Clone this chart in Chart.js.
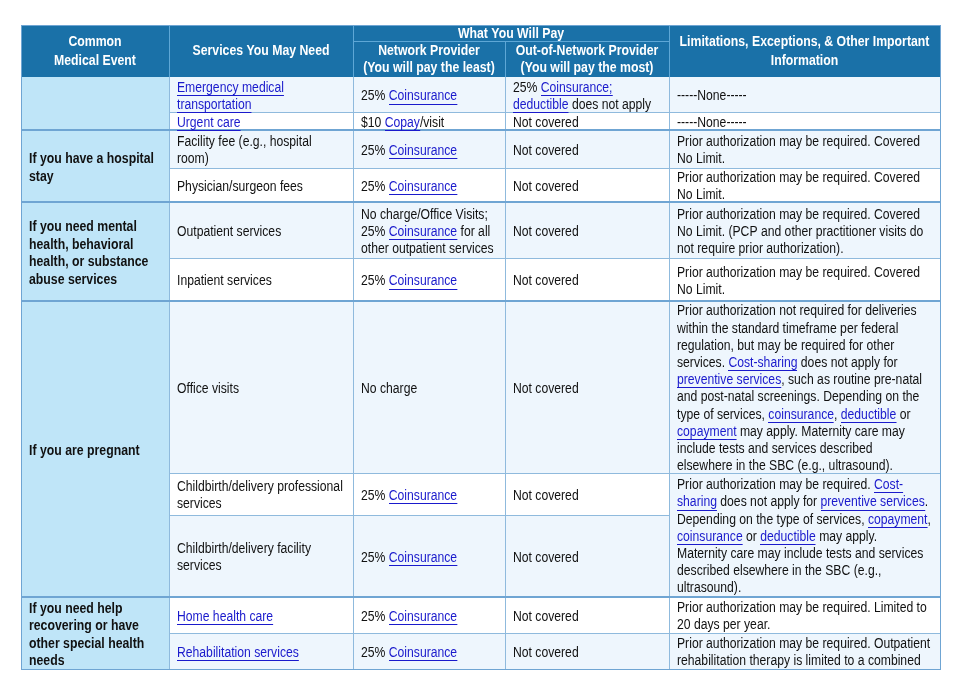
<!DOCTYPE html>
<html>
<head>
<meta charset="utf-8">
<script src="https://cdn.jsdelivr.net/npm/chart.js@4.4.1/dist/chart.umd.min.js"></script>
<style>
  html, body { margin: 0; background: #fff; }
  #wrap { width: 955px; height: 687px; }
</style>
</head>
<body>
<div id="wrap"><canvas id="sbc" width="955" height="687"></canvas></div>
<script>
// --- table content ---
const headerTop = ['Common\nMedical Event', 'Services You May Need', 'What You Will Pay', 'Limitations, Exceptions, & Other Important\nInformation'];
const headerSub = ['Network Provider\n(You will pay the least)', 'Out-of-Network Provider\n(You will pay the most)'];

const events = [
  '',
  'If you have a hospital\nstay',
  'If you need mental\nhealth, behavioral\nhealth, or substance\nabuse services',
  'If you are pregnant',
  'If you need help\nrecovering or have\nother special health\nneeds'
];
const eventRowCount = [2, 2, 2, 3, 2];

// [text] = link
const services = [
  '[Emergency medical]\n[transportation]',
  '[Urgent care]',
  'Facility fee (e.g., hospital\nroom)',
  'Physician/surgeon fees',
  'Outpatient services',
  'Inpatient services',
  'Office visits',
  'Childbirth/delivery professional\nservices',
  'Childbirth/delivery facility\nservices',
  '[Home health care]',
  '[Rehabilitation services]'
];
const networkCost = [
  '25% [Coinsurance]',
  '$10 [Copay]/visit',
  '25% [Coinsurance]',
  '25% [Coinsurance]',
  'No charge/Office Visits;\n25% [Coinsurance] for all\nother outpatient services',
  '25% [Coinsurance]',
  'No charge',
  '25% [Coinsurance]',
  '25% [Coinsurance]',
  '25% [Coinsurance]',
  '25% [Coinsurance]'
];
const outNetworkCost = [
  '25% [Coinsurance;]\n[deductible] does not apply',
  'Not covered', 'Not covered', 'Not covered', 'Not covered', 'Not covered',
  'Not covered', 'Not covered', 'Not covered', 'Not covered', 'Not covered'
];
// null = merged with the cell above
const limitations = [
  '-----None-----',
  '-----None-----',
  'Prior authorization may be required. Covered\nNo Limit.',
  'Prior authorization may be required. Covered\nNo Limit.',
  'Prior authorization may be required. Covered\nNo Limit. (PCP and other practitioner visits do\nnot require prior authorization).',
  'Prior authorization may be required. Covered\nNo Limit.',
  'Prior authorization not required for deliveries\nwithin the standard timeframe per federal\nregulation, but may be required for other\nservices. [Cost-sharing] does not apply for\n[preventive services], such as routine pre-natal\nand post-natal screenings. Depending on the\ntype of services, [coinsurance], [deductible] or\n[copayment] may apply. Maternity care may\ninclude tests and services described\nelsewhere in the SBC (e.g., ultrasound).',
  'Prior authorization may be required. [Cost-]\n[sharing] does not apply for [preventive services].\nDepending on the type of services, [copayment],\n[coinsurance] or [deductible] may apply.\nMaternity care may include tests and services\ndescribed elsewhere in the SBC (e.g.,\nultrasound).',
  null,
  'Prior authorization may be required. Limited to\n20 days per year.',
  'Prior authorization may be required. Outpatient\nrehabilitation therapy is limited to a combined'
];

// --- layout (table units) ---
const colWidths = [148, 184, 152, 164, 271];
const headerHeights = [16, 36];
const rowHeights = [35, 18, 38, 34, 56, 43, 172, 42, 82, 36, 36];

const C = {
  header: '#1a71a8',
  headerLine: '#5ea7d6',
  event: '#bfe5f8',
  shade: '#eef6fd',
  line: '#8fbadd',
  groupLine: '#6fa5d3',
  text: '#111111',
  link: '#1a1acc'
};
const FAMILY = "'Liberation Sans Narrow', 'Arial Narrow', 'Liberation Sans', Arial, sans-serif";
const BODY = '14px ' + FAMILY;
const BOLD = 'bold 14px ' + FAMILY;

function cum(arr) { const out = [0]; arr.forEach(v => out.push(out[out.length - 1] + v)); return out; }
const colEdges = cum(colWidths);
const headEdges = cum(headerHeights);
const rowEdges = cum(rowHeights).map(v => v + headEdges[2]);
const totalW = colEdges[colEdges.length - 1];
const totalH = rowEdges[rowEdges.length - 1];

function parseLine(line) {
  const segs = [];
  const re = /\[([^\]]*)\]/g;
  let last = 0, m;
  while ((m = re.exec(line))) {
    if (m.index > last) segs.push({ t: line.slice(last, m.index), link: false });
    segs.push({ t: m[1], link: true });
    last = re.lastIndex;
  }
  if (last < line.length) segs.push({ t: line.slice(last), link: false });
  return segs;
}

// horizontal squeeze so the text width matches the reference
function squeeze(ctx, font, sample, target) {
  ctx.font = font;
  const w = ctx.measureText(sample).width;
  return w > 0 ? target / w : 1;
}

const tablePlugin = {
  id: 'sbcTable',
  afterDraw(chart) {
    const ctx = chart.ctx;
    const sx = chart.scales.x, sy = chart.scales.y;
    const X = v => sx.getPixelForValue(v);
    const Y = v => sy.getPixelForValue(v);
    const kBody = squeeze(ctx, BODY, 'Prior authorization may be required. Covered', 243);
    const kBold = squeeze(ctx, BOLD, 'Services You May Need', 137);

    function rect(x0, y0, x1, y1, color) {
      ctx.fillStyle = color;
      ctx.fillRect(X(x0), Y(y0), X(x1) - X(x0), Y(y1) - Y(y0));
    }
    function hline(x0, x1, y, color, w) {
      ctx.strokeStyle = color; ctx.lineWidth = w;
      const py = Math.round(Y(y)) + (w % 2 ? 0.5 : 0);
      ctx.beginPath(); ctx.moveTo(X(x0), py); ctx.lineTo(X(x1), py); ctx.stroke();
    }
    function vline(x, y0, y1, color, w) {
      ctx.strokeStyle = color; ctx.lineWidth = w;
      const px = Math.round(X(x)) + (w % 2 ? 0.5 : 0);
      ctx.beginPath(); ctx.moveTo(px, Y(y0)); ctx.lineTo(px, Y(y1)); ctx.stroke();
    }
    function text(str, x0, x1, y0, y1, opt) {
      if (!str) return;
      const lines = str.split('\n');
      const lh = opt.lh || 17.2;
      const k = opt.bold ? kBold : kBody;
      ctx.font = opt.bold ? BOLD : BODY;
      ctx.textBaseline = 'middle';
      ctx.textAlign = 'left';
      const cy = (Y(y0) + Y(y1)) / 2 + (opt.dy === undefined ? 2 : opt.dy);
      lines.forEach((line, i) => {
        const segs = parseLine(line);
        const widths = segs.map(s => ctx.measureText(s.t).width * k);
        const total = widths.reduce((a, b) => a + b, 0);
        let px = opt.center ? (X(x0) + X(x1)) / 2 - total / 2 : X(x0) + 8;
        const py = cy + (i - (lines.length - 1) / 2) * lh;
        segs.forEach((s, j) => {
          const color = opt.color || (s.link ? C.link : C.text);
          ctx.save();
          ctx.translate(px, py);
          ctx.scale(k, 1);
          ctx.fillStyle = color;
          ctx.fillText(s.t, 0, 0);
          ctx.restore();
          if (s.link) {
            ctx.fillStyle = color;
            ctx.fillRect(Math.round(px), Math.round(py + 7), widths[j], 1);
          }
          px += widths[j];
        });
      });
    }

    // header
    rect(0, 0, totalW, headEdges[2], C.header);
    vline(colEdges[1], 0, headEdges[2], C.headerLine, 1);
    vline(colEdges[2], 0, headEdges[2], C.headerLine, 1);
    vline(colEdges[3], headEdges[1], headEdges[2], C.headerLine, 1);
    vline(colEdges[4], 0, headEdges[2], C.headerLine, 1);
    hline(colEdges[2], colEdges[4], headEdges[1], C.headerLine, 1);
    const hd = { bold: true, center: true, color: '#fff', dy: 0.5 };
    text(headerTop[0], colEdges[0], colEdges[1], 0, headEdges[2], { ...hd, lh: 19 });
    text(headerTop[1], colEdges[1], colEdges[2], 0, headEdges[2], { ...hd, lh: 19 });
    text(headerTop[2], colEdges[2], colEdges[4], 0, headEdges[1], { ...hd, dy: 1 });
    text(headerTop[3], colEdges[4], colEdges[5], 0, headEdges[2], { ...hd, lh: 19 });
    text(headerSub[0], colEdges[2], colEdges[3], headEdges[1], headEdges[2], { ...hd, lh: 17 });
    text(headerSub[1], colEdges[3], colEdges[4], headEdges[1], headEdges[2], { ...hd, lh: 17 });

    // body rows
    const nRows = rowHeights.length;
    for (let r = 0; r < nRows; r++) {
      const y0 = rowEdges[r], y1 = rowEdges[r + 1];
      const fill = r % 2 === 0 ? C.shade : '#ffffff';
      rect(colEdges[1], y0, colEdges[4], y1, fill);
      if (limitations[r] !== null) {
        let end = r + 1;
        while (end < nRows && limitations[end] === null) end++;
        rect(colEdges[4], y0, colEdges[5], rowEdges[end], end - r > 1 ? C.shade : fill);
      }
    }
    // event column
    rect(0, rowEdges[0], colEdges[1], totalH, C.event);

    // thin lines
    for (let r = 1; r < nRows; r++) {
      hline(colEdges[1], colEdges[4], rowEdges[r], C.line, 1);
      if (limitations[r] !== null) hline(colEdges[4], colEdges[5], rowEdges[r], C.line, 1);
    }
    for (let c = 1; c < colEdges.length - 1; c++) vline(colEdges[c], rowEdges[0], totalH, C.line, 1);

    // group lines + event labels
    let start = 0;
    eventRowCount.forEach((n, g) => {
      const y0 = rowEdges[start], y1 = rowEdges[start + n];
      text(events[g], colEdges[0], colEdges[1], y0, y1, { bold: true, lh: 17.5 });
      if (g > 0) hline(0, totalW, y0, C.groupLine, 2);
      start += n;
    });

    // outer border
    ctx.strokeStyle = C.groupLine; ctx.lineWidth = 1;
    ctx.strokeRect(Math.round(X(0)) + 0.5, Math.round(Y(0)) + 0.5, Math.round(X(totalW) - X(0)), Math.round(Y(totalH) - Y(0)));

    // cell text
    for (let r = 0; r < nRows; r++) {
      const y0 = rowEdges[r], y1 = rowEdges[r + 1];
      text(services[r], colEdges[1], colEdges[2], y0, y1, {});
      text(networkCost[r], colEdges[2], colEdges[3], y0, y1, {});
      text(outNetworkCost[r], colEdges[3], colEdges[4], y0, y1, {});
      if (limitations[r] !== null) {
        let end = r + 1;
        while (end < nRows && limitations[end] === null) end++;
        text(limitations[r], colEdges[4], colEdges[5], y0, rowEdges[end], {});
      }
    }
  }
};

new Chart(document.getElementById('sbc').getContext('2d'), {
  type: 'scatter',
  data: { datasets: [{ data: [] }] },
  options: {
    responsive: false,
    animation: false,
    events: [],
    layout: { padding: { left: 21, top: 25, right: 15, bottom: 18 } },
    plugins: { legend: { display: false }, tooltip: { enabled: false } },
    scales: {
      x: { type: 'linear', display: false, min: 0, max: totalW },
      y: { type: 'linear', display: false, min: 0, max: totalH, reverse: true }
    }
  },
  plugins: [tablePlugin]
});
</script>
</body>
</html>
